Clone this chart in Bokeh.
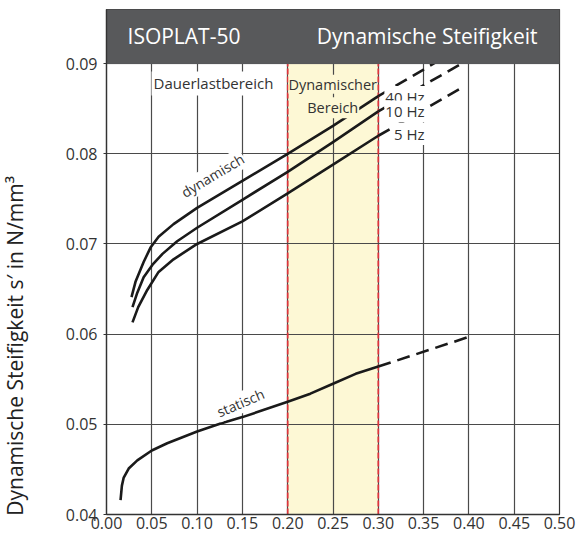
from math import radians
from bokeh.plotting import figure
from bokeh.layouts import row
from bokeh.models import Range1d, FixedTicker, Label, PrintfTickFormatter
from bokeh.embed import file_html
from bokeh.resources import INLINE

# ---------------- data ----------------
x_ticks = [0.00, 0.05, 0.10, 0.15, 0.20, 0.25, 0.30, 0.35, 0.40, 0.45, 0.50]
y_ticks = [0.04, 0.05, 0.06, 0.07, 0.08, 0.09]

band = [0.20, 0.30]          # Dynamischer Bereich
title_bar = [0.09, 0.096]    # header strip above the chart

x_40 = [0.0276, 0.032, 0.041, 0.0486, 0.0575, 0.074, 0.10, 0.15, 0.20, 0.25, 0.30]
y_40 = [0.0641, 0.0658, 0.0680, 0.0696, 0.0708, 0.0722, 0.0740, 0.0770, 0.0800, 0.0831, 0.0864]
x_40_ext = [0.30, 0.39]
y_40_ext = [0.0864, 0.0917]

x_10 = [0.0287, 0.034, 0.041, 0.0508, 0.0618, 0.078, 0.10, 0.15, 0.20, 0.25, 0.30]
y_10 = [0.0630, 0.0646, 0.0663, 0.0677, 0.0689, 0.0703, 0.0718, 0.0749, 0.0780, 0.0813, 0.0847]
x_10_ext = [0.30, 0.39]
y_10_ext = [0.0847, 0.0899]

x_5 = [0.0287, 0.035, 0.045, 0.0575, 0.074, 0.10, 0.15, 0.20, 0.25, 0.30]
y_5 = [0.0613, 0.0630, 0.0649, 0.0669, 0.0683, 0.0700, 0.0725, 0.0756, 0.0788, 0.0820]
x_5_ext = [0.30, 0.39]
y_5_ext = [0.0820, 0.0872]

x_stat = [0.0155, 0.017, 0.019, 0.0245, 0.034, 0.05, 0.067, 0.10, 0.126, 0.15, 0.20, 0.225, 0.25, 0.275, 0.30]
y_stat = [0.0416, 0.0432, 0.0441, 0.0451, 0.0460, 0.0471, 0.0479, 0.0492, 0.0501, 0.0508, 0.0525, 0.0534, 0.0545, 0.0556, 0.0564]
x_stat_ext = [0.30, 0.40]
y_stat_ext = [0.0564, 0.0597]

y_title = "Dynamische Steifigkeit s\u2032 in N/mm\u00b3"
head_left = "ISOPLAT-50"
head_right = "Dynamische Steifigkeit"

FONT = "Open Sans"
TXT = "#333333"
CURVE = "#1a1a1a"
YELLOW = "#fdf8d5"
BAR = "#58595b"

LBL_W = 30   # width of the strip that carries the y-axis title

# ---------------- y-axis title strip ----------------
side = figure(width=LBL_W, height=536, output_backend="svg", toolbar_location=None,
              x_range=Range1d(0, LBL_W), y_range=Range1d(0, 536),
              x_axis_type=None, y_axis_type=None, min_border=0)
side.outline_line_color = None
side.add_layout(Label(x=14, y=179, text=y_title, text_font=FONT,
                      text_font_size="21px", text_color="#222222",
                      text_align="center", text_baseline="middle",
                      angle=radians(90)))

# ---------------- main chart ----------------
p = figure(width=577 - LBL_W, height=536, output_backend="svg", toolbar_location=None,
           x_range=Range1d(x_ticks[0], x_ticks[-1]),
           y_range=Range1d(y_ticks[0], title_bar[1]),
           min_border_left=106 - LBL_W, min_border_right=18, min_border_top=9,
           min_border_bottom=22)
p.background_fill_color = "white"
p.outline_line_color = "#333333"
p.outline_line_width = 1.2

p.xaxis.ticker = FixedTicker(ticks=x_ticks)
p.yaxis.ticker = FixedTicker(ticks=y_ticks)
p.xaxis.formatter = PrintfTickFormatter(format="%.2f")
p.yaxis.formatter = PrintfTickFormatter(format="%.2f")
for ax in (p.xaxis, p.yaxis):
    ax.major_label_text_font = FONT
    ax.major_label_text_font_size = "16px"
    ax.major_label_text_color = TXT
    ax.axis_line_color = "#333333"
    ax.axis_line_width = 1.3
    ax.major_tick_line_color = "#333333"
    ax.minor_tick_line_color = None
    ax.major_tick_in = 0
p.xaxis.major_tick_out = 0
p.xaxis.major_label_standoff = 2
p.yaxis.major_tick_out = 3
p.yaxis.major_label_standoff = 6

p.xgrid.ticker = FixedTicker(ticks=x_ticks)
p.ygrid.ticker = FixedTicker(ticks=y_ticks)
p.grid.grid_line_color = "#4a4a4a"
p.grid.grid_line_width = 1.2
p.grid.grid_line_alpha = 1.0

# yellow band (below grid)
p.quad(left=[band[0]], right=[band[1]], bottom=[y_ticks[0]], top=[y_ticks[-1]],
       fill_color=YELLOW, line_color=None, level="image")

# red dashed limits
p.segment(x0=band, y0=[y_ticks[0]] * 2, x1=band, y1=[y_ticks[-1]] * 2,
          line_color="#e0343c", line_width=1.7, line_dash="6 2")

# curves
for xs, ys, xe, ye in [(x_40, y_40, x_40_ext, y_40_ext),
                       (x_10, y_10, x_10_ext, y_10_ext),
                       (x_5, y_5, x_5_ext, y_5_ext),
                       (x_stat, y_stat, x_stat_ext, y_stat_ext)]:
    p.line(xs, ys, line_color=CURVE, line_width=2.6, line_join="round")
    p.line(xe, ye, line_color=CURVE, line_width=2.6, line_dash="13 7")

# header strip (covers anything above 0.09)
p.quad(left=[x_ticks[0]], right=[x_ticks[-1]], bottom=[title_bar[0]], top=[title_bar[1]],
       fill_color=BAR, line_color=BAR)


def lab(text, x, y, size, align="center", angle=0, color=TXT, bg=None, pad=0):
    p.add_layout(Label(x=x, y=y, text=text, text_font=FONT, text_font_size=size,
                       text_color=color, text_align=align, text_baseline="middle",
                       angle=radians(angle), background_fill_color=bg, padding=pad))


lab(head_left, 0.0232, 0.0931, "21px", align="left", color="white")
lab(head_right, 0.4757, 0.0931, "21px", align="right", color="white")

lab("Dauerlastbereich", 0.1181, 0.0878, "15px", bg="white", pad=2)
lab("Dynamischer", 0.2497, 0.0877, "14.5px", bg=YELLOW, pad=0)
lab("Bereich", 0.2497, 0.0851, "14.5px", bg=YELLOW, pad=1)
lab("40 Hz", 0.3521, 0.0863, "15px", align="right", bg="white", pad=1)
lab("10 Hz", 0.3521, 0.0847, "15px", align="right", bg="white", pad=1)
lab("5 Hz", 0.3521, 0.0822, "15px", align="right", bg="white", pad=1)
lab("dynamisch", 0.117, 0.0776, "14px", angle=31, bg="white", pad=1)
lab("statisch", 0.1479, 0.0524, "14px", angle=23, bg="white", pad=1)

layout = row(side, p, spacing=0)
open("out.html", "w").write(file_html(layout, INLINE))
